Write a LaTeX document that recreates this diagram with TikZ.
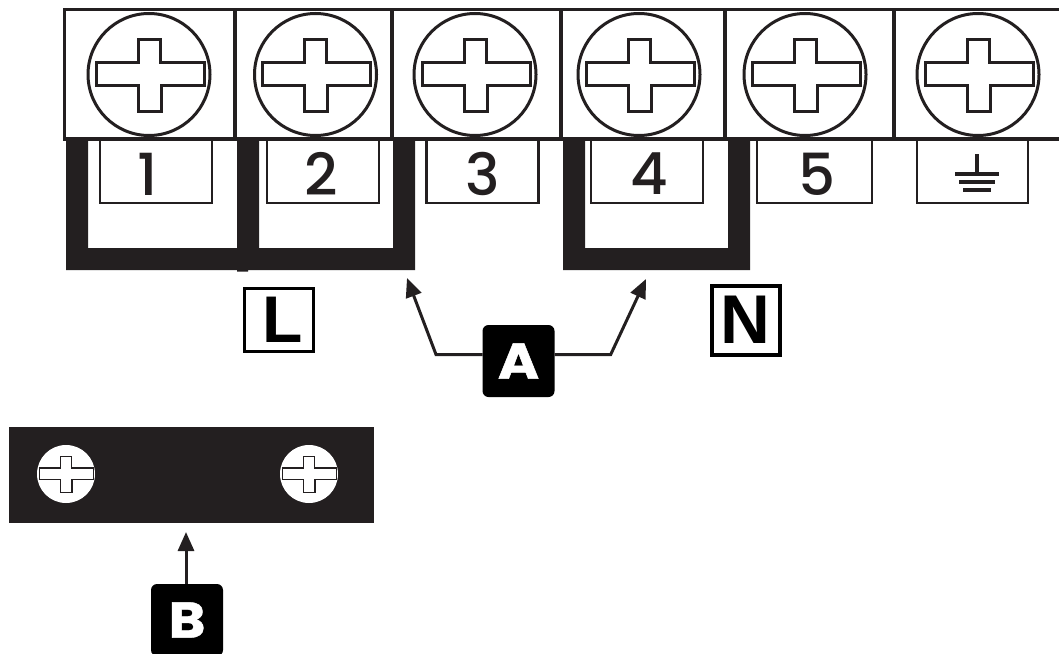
\documentclass[tikz,border=0pt]{standalone}
\usepackage{fontspec}
\setmainfont{Liberation Sans}
\newfontfamily\digitfont{Poppins Medium}
\newfontfamily\tagfont[FakeBold=1,FakeStretch=1.12]{Poppins Bold}
\usetikzlibrary{arrows.meta,positioning}
\definecolor{ink}{RGB}{35,31,32}
\tikzstyle{Screw}=[shape=circle,draw=ink,line width=3pt,fill=white,minimum size=122pt,inner sep=0pt,outer sep=0pt]
\tikzstyle{SmallScrew}=[shape=circle,fill=white,minimum size=58pt,inner sep=0pt,outer sep=0pt]
\tikzstyle{Numbox}=[shape=rectangle,draw=ink,line width=2.8pt,minimum width=112pt,minimum height=64pt,inner sep=0pt,outer sep=0pt]
\tikzstyle{Digit}=[text=ink,inner sep=0pt,font=\digitfont\fontsize{58}{58}\selectfont]
\tikzstyle{Tag}=[shape=rectangle,fill=black,rounded corners=6pt,minimum size=72pt,inner sep=0pt,outer sep=0pt,text=white,font=\tagfont\fontsize{50}{50}\selectfont]
\tikzstyle{Mark}=[shape=rectangle,draw=black,line width=3.6pt,inner sep=0pt,outer sep=0pt,text=black,font=\bfseries\fontsize{66}{66}\selectfont]
\tikzstyle{jumper}=[fill=ink]
\tikzstyle{leader}=[draw=ink,line width=3pt,-{Triangle[length=19pt,width=16pt]}]
\newcommand{\crossmark}[4]{% centre x, centre y, scale, line width
  \draw[draw=ink,line width=#4,fill=white,x=#3pt,y=-#3pt,shift={(#1pt,-#2pt)}]
    (-53,-12) -- (-11,-12) -- (-11,-35) -- (11,-35) -- (11,-12) -- (55,-12)
    -- (55,11) -- (12,11) -- (12,37) -- (-11,37) -- (-11,11) -- (-53,11) -- cycle;
}
\begin{document}
\begin{tikzpicture}[x=1pt,y=-1pt]
 \useasboundingbox (0,0) rectangle (1059,653);

 % jumpers
 \fill[jumper] (66,139) -- (88,139) -- (88,248) -- (237,248) -- (237,139) -- (259,139) -- (259,248)
   -- (393,248) -- (393,139) -- (415,139) -- (415,270) -- (248,270) -- (248,271.5) -- (237,271.5) -- (237,270) -- (66,270) -- cycle;
 \fill[jumper] (563,139) -- (585,139) -- (585,248) -- (728,248) -- (728,139) -- (750,139) -- (750,270) -- (563,270) -- cycle;

 % terminal strip
 \coordinate (stripTL) at (64.5,9.5);
 \coordinate (stripBL) at (64.5,139);
 \coordinate (stripTR) at (1059,9.5);
 \coordinate (stripBR) at (1059,139);
 \draw[draw=ink,line width=3.2pt] (stripTR) -- (stripTL) -- (stripBL) -- (stripBR);
 \draw[draw=ink,line width=3.2pt] (235,9.5) -- (235,139);
 \draw[draw=ink,line width=3.2pt] (392,9.5) -- (392,139);
 \draw[draw=ink,line width=3.2pt] (561,9.5) -- (561,139);
 \draw[draw=ink,line width=3.2pt] (725,9.5) -- (725,139);
 \draw[draw=ink,line width=3.2pt] (894,9.5) -- (894,139);

 \node[Screw] (s1) at (149,74.5){};
 \node[Screw] (s2) at (315.5,74.5){};
 \node[Screw] (s3) at (475,74.5){};
 \node[Screw] (s4) at (639,74.5){};
 \node[Screw] (s5) at (805,74.5){};
 \node[Screw] (s6) at (978,74.5){};
 \crossmark{149}{74.5}{1}{3pt}
 \crossmark{315.5}{74.5}{1}{3pt}
 \crossmark{475}{74.5}{1}{3pt}
 \crossmark{639}{74.5}{1}{3pt}
 \crossmark{805}{74.5}{1}{3pt}
 \crossmark{978}{74.5}{1}{3pt}

 % number boxes
 \node[Numbox] (box1) at (156,171){};
 \node[Numbox] (box2) at (323,171){};
 \node[Numbox] (box3) at (482.5,171){};
 \node[Numbox] (box4) at (647,171){};
 \node[Numbox,minimum width=115pt] (box5) at (814.5,171){};
 \node[Numbox,minimum width=111pt] (box6) at (972.5,171){};
 \node[Digit] (num1) at (148,174){1};
 \node[Digit] (num2) at (321,174){2};
 \node[Digit] (num3) at (483,174){3};
 \node[Digit] (num4) at (649,174){4};
 \node[Digit] (num5) at (817,174){5};

 % earth symbol
 \coordinate (earthT) at (977,154);
 \coordinate (earthB) at (977,173.7);
 \draw[draw=ink,line width=3.4pt] (earthT) -- (earthB);
 \draw[draw=ink,line width=3.6pt] (955,173.7) -- (999,173.7);
 \draw[draw=ink,line width=3.6pt] (959,181.7) -- (995,181.7);
 \draw[draw=ink,line width=3.6pt] (963,189.7) -- (991,189.7);

 % L and N
 \node[Mark,minimum width=69pt,minimum height=63pt] (markL) at (279,320){\hspace{8pt}L};
 \node[Mark,line width=4pt,minimum width=68pt,minimum height=69pt,font=\bfseries\fontsize{69}{69}\selectfont] (markN) at (745.5,320){N};

 % clamp bar
 \node[shape=rectangle,fill=ink,minimum width=365pt,minimum height=96pt,inner sep=0pt,outer sep=0pt] (bar) at (191.5,475){};
 \node[SmallScrew] (b1) at (66,474){};
 \node[SmallScrew] (b2) at (309,474){};
 \crossmark{66}{474}{0.5}{1.2pt}
 \crossmark{309}{474}{0.5}{1.2pt}

 % tags
 \node[Tag] (A) at (518.5,361){A};
 \node[Tag] (B) at (187,620){B};
 \coordinate (elbowL) at (436,354.5);
 \coordinate (tipL) at (407,278);
 \coordinate (elbowR) at (610.7,354.5);
 \coordinate (tipR) at (646,279);
 \coordinate (tipB) at (186,532);

 \draw[leader] (A.west |- elbowL) -- (elbowL) -- (tipL);
 \draw[leader] (A.east |- elbowR) -- (elbowR) -- (tipR);
 \draw[leader] (tipB |- B.north) -- (tipB);

\end{tikzpicture}
\end{document}
